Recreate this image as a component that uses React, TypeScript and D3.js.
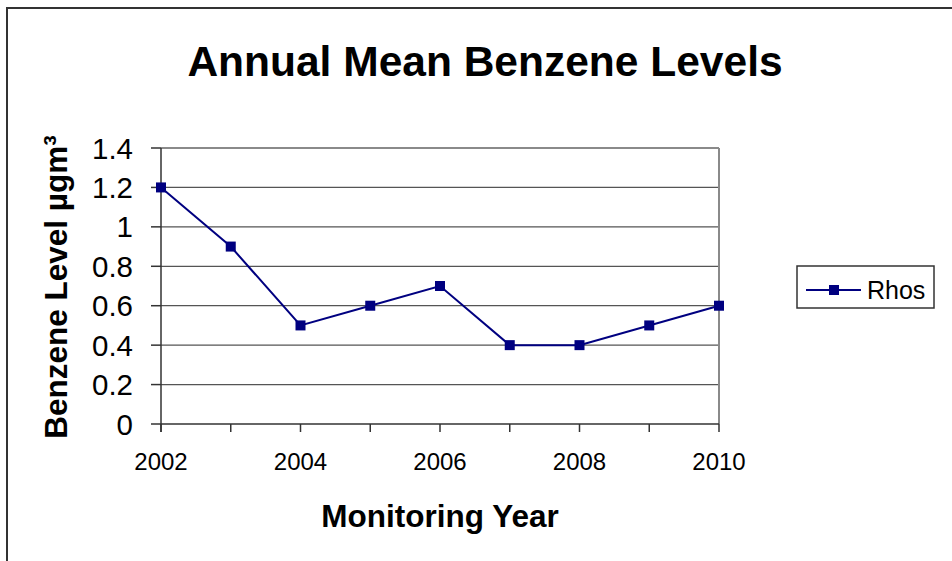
import React from "react";
import * as d3 from "d3";

const years = [2002, 2003, 2004, 2005, 2006, 2007, 2008, 2009, 2010];
const rhos = [1.2, 0.9, 0.5, 0.6, 0.7, 0.4, 0.4, 0.5, 0.6];
const yTicks = [0, 0.2, 0.4, 0.6, 0.8, 1, 1.2, 1.4];
const xTicks = [2002, 2004, 2006, 2008, 2010];
const seriesName = "Rhos";
const title = "Annual Mean Benzene Levels";
const xTitle = "Monitoring Year";
const yTitle = "Benzene Level µgm³";

const W = 952, H = 561;
const plot = { left: 161, right: 719, top: 148, bottom: 424 };
const FONT = "Liberation Sans, Arial, sans-serif";
const NAVY = "#000080";

export default function App() {
  const x = d3.scaleLinear().domain([2002, 2010]).range([plot.left, plot.right]);
  const y = d3.scaleLinear().domain([0, 1.4]).range([plot.bottom, plot.top]);
  const line = d3.line<number>().x((_, i) => x(years[i])).y((d) => y(d));
  const fmt = (v: number) => (v === 0 || v === 1 ? String(v) : v.toFixed(1));

  return (
    <svg width={W} height={H} style={{ position: "absolute", left: 0, top: 0 }} fontFamily={FONT}>
      <rect x={0} y={0} width={W} height={H} fill="#fff" />
      {/* outer chart border */}
      <rect x={7} y={8} width={W + 20} height={H + 20} fill="none" stroke="#333" strokeWidth={2} />
      <text x={485} y={76} textAnchor="middle" fontSize={42.5} fontWeight="bold" fill="#000">{title}</text>

      {/* gridlines */}
      {yTicks.filter((t) => t > 0).map((t) => (
        <line key={t} x1={plot.left} x2={plot.right} y1={y(t)} y2={y(t)} stroke="#555" strokeWidth={1.2} />
      ))}
      {/* plot border top & right */}
      <line x1={plot.left} x2={plot.right} y1={plot.top} y2={plot.top} stroke="#8a8a8a" strokeWidth={2} />
      <line x1={plot.right} x2={plot.right} y1={plot.top} y2={plot.bottom} stroke="#8a8a8a" strokeWidth={2} />
      {/* axes */}
      <line x1={plot.left} x2={plot.left} y1={plot.top} y2={plot.bottom + 8} stroke="#333" strokeWidth={1.5} />
      <line x1={plot.left} x2={plot.right} y1={plot.bottom} y2={plot.bottom} stroke="#333" strokeWidth={1.5} />
      {yTicks.map((t) => (
        <g key={t}>
          <line x1={plot.left - 10} x2={plot.left} y1={y(t)} y2={y(t)} stroke="#333" strokeWidth={1.5} />
          <text x={133} y={y(t)} dy="0.36em" textAnchor="end" fontSize={29.5} fill="#000">{fmt(t)}</text>
        </g>
      ))}
      {years.map((yr) => (
        <line key={yr} x1={x(yr)} x2={x(yr)} y1={plot.bottom} y2={plot.bottom + 8} stroke="#333" strokeWidth={1.5} />
      ))}
      {xTicks.map((t) => (
        <text key={t} x={x(t)} y={470} textAnchor="middle" fontSize={24} fill="#000">{t}</text>
      ))}
      <text x={(plot.left + plot.right) / 2} y={527} textAnchor="middle" fontSize={31.5} fontWeight="bold" fill="#000">{xTitle}</text>
      <text transform={`translate(67,${(plot.top + plot.bottom) / 2 + 1}) rotate(-90)`} textAnchor="middle" fontSize={31.5} fontWeight="bold" fill="#000">{yTitle}</text>

      {/* series */}
      <path d={line(rhos) || ""} fill="none" stroke={NAVY} strokeWidth={2} />
      {rhos.map((v, i) => (
        <rect key={i} x={x(years[i]) - 5} y={y(v) - 5} width={10} height={10} fill={NAVY} />
      ))}

      {/* legend */}
      <rect x={797} y={266} width={137} height={42} fill="#fff" stroke="#333" strokeWidth={1.5} />
      <line x1={806} x2={861} y1={290} y2={290} stroke={NAVY} strokeWidth={2} />
      <rect x={829} y={285} width={10} height={10} fill={NAVY} />
      <text x={867} y={290} dy="0.36em" fontSize={25} fill="#000">{seriesName}</text>
    </svg>
  );
}
